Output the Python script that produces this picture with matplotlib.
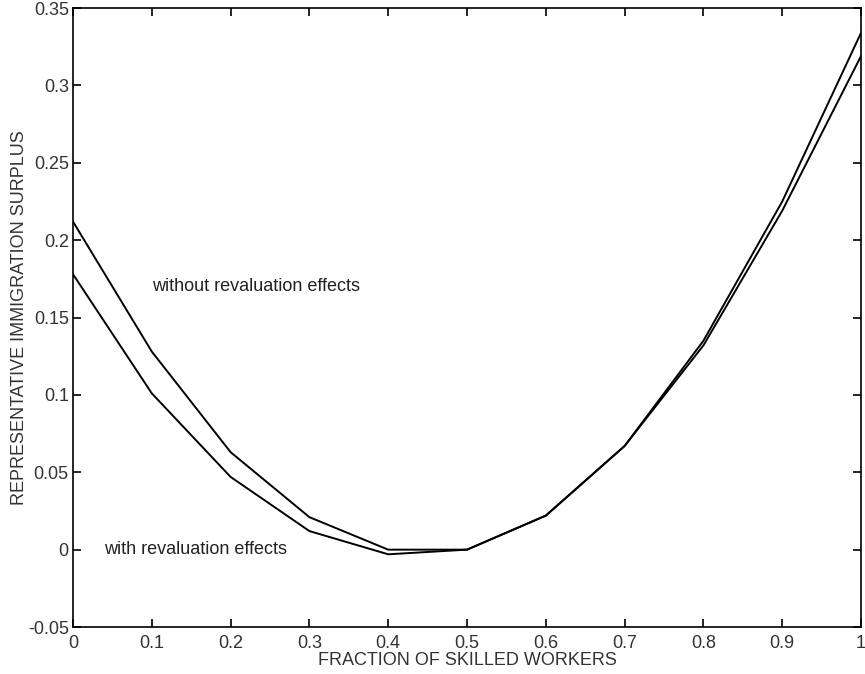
import numpy as np
import matplotlib
matplotlib.use("Agg")
from matplotlib import pyplot as plt

plt.rcParams['font.family'] = ['Liberation Sans', 'DejaVu Sans']

# fraction of skilled workers
x_vals = [0.0, 0.1, 0.2, 0.3, 0.4, 0.5, 0.6, 0.7, 0.8, 0.9, 1.0]
# surplus without revaluation effects
without_reval = [0.212, 0.128, 0.063, 0.021, 0.000, 0.000, 0.022, 0.067, 0.135, 0.225, 0.334]
# surplus with revaluation effects
with_reval = [0.178, 0.101, 0.047, 0.012, -0.003, 0.000, 0.022, 0.067, 0.132, 0.219, 0.319]

x_ticks = [0, 0.1, 0.2, 0.3, 0.4, 0.5, 0.6, 0.7, 0.8, 0.9, 1]
y_ticks = [-0.05, 0, 0.05, 0.1, 0.15, 0.2, 0.25, 0.3, 0.35]

fig = plt.figure(figsize=(8.65, 6.74), dpi=100)
ax = fig.add_axes([0.0844, 0.0697, 0.911, 0.9183])

ax.plot(x_vals, without_reval, color='black', lw=1.4)
ax.plot(x_vals, with_reval, color='black', lw=1.4)

ax.set_xlim(0, 1)
ax.set_ylim(-0.05, 0.35)
ax.set_xticks(x_ticks)
ax.set_xticklabels(['0', '0.1', '0.2', '0.3', '0.4', '0.5', '0.6', '0.7', '0.8', '0.9', '1'])
ax.set_yticks(y_ticks)
ax.set_yticklabels(['-0.05', '0', '0.05', '0.1', '0.15', '0.2', '0.25', '0.3', '0.35'])

ax.tick_params(direction='in', length=6, width=1.2, top=True, right=True,
               labelsize=13, labelcolor='#333333', pad=3)
ax.tick_params(axis='x', pad=6)
for sp in ax.spines.values():
    sp.set_linewidth(1.2)

ax.text(0.1, 0.170, 'without revaluation effects', fontsize=13, color='#222222', va='center')
ax.text(0.04, 0.0, 'with revaluation effects', fontsize=13, color='#222222', va='center')

ax.set_xlabel('FRACTION OF SKILLED WORKERS', fontsize=13, color='#333333', labelpad=0)
ax.set_ylabel('REPRESENTATIVE IMMIGRATION SURPLUS', fontsize=13, color='#333333', labelpad=0)

fig.savefig('out.png', dpi=100)
